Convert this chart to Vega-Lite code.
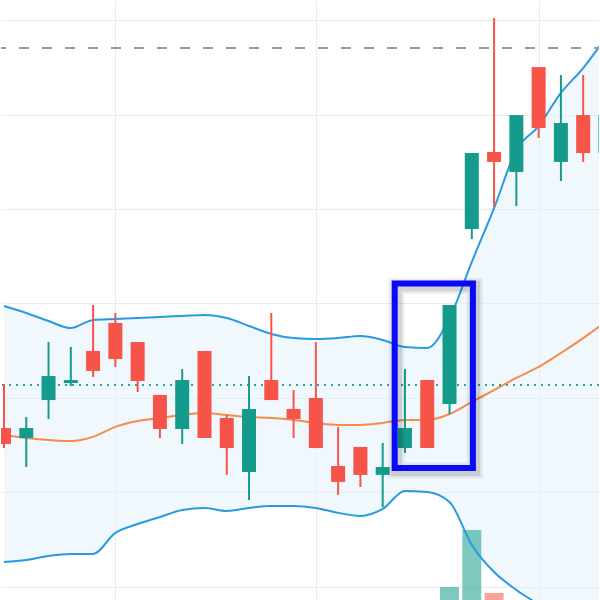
{
  "$schema": "https://vega.github.io/schema/vega-lite/v6.json",
  "width": 600,
  "height": 600,
  "autosize": {"type": "fit", "contains": "padding"},
  "padding": 0,
  "background": "white",
  "config": {"view": {"stroke": null}, "axis": {"gridColor": "#ebebeb", "gridWidth": 1}, "scale": {"continuousPadding": 0}},
  "datasets": {
    "ohlc": [
      {"i": 0, "open": 98.41, "high": 100.74, "low": 97.35, "close": 97.57, "upper": 104.87, "middle": 98.04, "lower": 91.32, "vol": 12},
      {"i": 1, "open": 97.88, "high": 98.99, "low": 96.35, "close": 98.41, "upper": 104.50, "middle": 97.88, "lower": 91.43, "vol": 9},
      {"i": 2, "open": 99.89, "high": 102.96, "low": 98.89, "close": 101.16, "upper": 104.07, "middle": 97.78, "lower": 91.64, "vol": 14},
      {"i": 3, "open": 100.79, "high": 102.70, "low": 100.63, "close": 100.95, "upper": 103.70, "middle": 97.72, "lower": 91.75, "vol": 7},
      {"i": 4, "open": 102.49, "high": 104.92, "low": 101.11, "close": 101.43, "upper": 104.13, "middle": 97.94, "lower": 91.75, "vol": 11},
      {"i": 5, "open": 103.97, "high": 104.50, "low": 101.64, "close": 102.06, "upper": 104.18, "middle": 98.47, "lower": 92.86, "vol": 10},
      {"i": 6, "open": 102.96, "high": 102.96, "low": 100.32, "close": 100.90, "upper": 104.23, "middle": 98.78, "lower": 93.33, "vol": 9},
      {"i": 7, "open": 100.16, "high": 100.16, "low": 97.88, "close": 98.36, "upper": 104.29, "middle": 98.94, "lower": 93.70, "vol": 8},
      {"i": 8, "open": 98.36, "high": 101.53, "low": 97.57, "close": 100.95, "upper": 104.34, "middle": 99.10, "lower": 94.07, "vol": 10},
      {"i": 9, "open": 102.49, "high": 102.49, "low": 97.88, "close": 97.88, "upper": 104.39, "middle": 99.21, "lower": 94.18, "vol": 13},
      {"i": 10, "open": 98.94, "high": 99.10, "low": 95.93, "close": 97.35, "upper": 104.23, "middle": 99.10, "lower": 94.02, "vol": 9},
      {"i": 11, "open": 96.08, "high": 101.16, "low": 94.60, "close": 99.42, "upper": 103.81, "middle": 98.99, "lower": 94.18, "vol": 15},
      {"i": 12, "open": 100.95, "high": 104.50, "low": 99.89, "close": 99.89, "upper": 103.39, "middle": 98.94, "lower": 94.29, "vol": 11},
      {"i": 13, "open": 99.42, "high": 100.42, "low": 97.88, "close": 98.89, "upper": 103.17, "middle": 98.84, "lower": 94.29, "vol": 7},
      {"i": 14, "open": 100.00, "high": 102.96, "low": 97.35, "close": 97.35, "upper": 103.12, "middle": 98.68, "lower": 94.18, "vol": 12},
      {"i": 15, "open": 96.40, "high": 98.47, "low": 94.87, "close": 95.56, "upper": 103.17, "middle": 98.57, "lower": 93.92, "vol": 10},
      {"i": 16, "open": 97.41, "high": 97.41, "low": 95.29, "close": 95.93, "upper": 103.28, "middle": 98.57, "lower": 93.76, "vol": 8},
      {"i": 17, "open": 95.93, "high": 97.62, "low": 94.23, "close": 96.35, "upper": 103.07, "middle": 98.68, "lower": 94.13, "vol": 9},
      {"i": 18, "open": 97.35, "high": 101.53, "low": 97.09, "close": 98.41, "upper": 102.70, "middle": 98.84, "lower": 95.08, "vol": 14},
      {"i": 19, "open": 100.95, "high": 100.95, "low": 97.35, "close": 97.35, "upper": 102.65, "middle": 98.84, "lower": 95.03, "vol": 16},
      {"i": 20, "open": 99.68, "high": 104.92, "low": 99.15, "close": 104.92, "upper": 104.23, "middle": 99.15, "lower": 94.50, "vol": 33},
      {"i": 21, "open": 108.94, "high": 112.96, "low": 108.41, "close": 112.96, "upper": 107.20, "middle": 99.79, "lower": 92.22, "vol": 90},
      {"i": 22, "open": 113.02, "high": 120.11, "low": 110.11, "close": 112.49, "upper": 110.05, "middle": 100.42, "lower": 90.79, "vol": 27},
      {"i": 23, "open": 111.96, "high": 114.97, "low": 110.16, "close": 114.97, "upper": 113.12, "middle": 101.06, "lower": 89.84, "vol": 18},
      {"i": 24, "open": 117.51, "high": 117.51, "low": 113.76, "close": 114.29, "upper": 114.39, "middle": 101.64, "lower": 89.05, "vol": 15},
      {"i": 25, "open": 112.49, "high": 117.09, "low": 111.48, "close": 114.55, "upper": 116.14, "middle": 102.38, "lower": 87.99, "vol": 12},
      {"i": 26, "open": 114.97, "high": 117.09, "low": 112.49, "close": 112.96, "upper": 117.46, "middle": 103.17, "lower": 87.20, "vol": 10},
      {"i": 27, "open": 112.96, "high": 115.20, "low": 112.70, "close": 114.97, "upper": 119.05, "middle": 104.02, "lower": 86.67, "vol": 9}
    ],
    "box": [
      {"x1": 17.54, "x2": 21.05, "y1": 96.30, "y2": 106.06}
    ],
    "shadow": [
      {"x1": 17.62, "x2": 21.13, "y1": 96.16, "y2": 105.92}
    ],
    "levels": [
      {"name": "resistance", "price": 118.52},
      {"name": "last", "price": 100.69}
    ]
  },
  "resolve": {"scale": {"y": "independent"}},
  "layer": [
    {
      "data": {"name": "ohlc"},
      "mark": {"type": "area", "color": "#e3f2fb", "opacity": 0.5, "interpolate": "monotone", "clip": true},
      "encoding": {
        "x": {"field": "i", "type": "quantitative",
              "scale": {"domain": [-0.134, 26.71], "nice": false, "zero": false, "padding": 0},
              "axis": {"values": [5, 14, 24], "labels": false, "ticks": false, "domain": false, "title": null, "grid": true}},
        "y": {"field": "upper", "type": "quantitative",
              "scale": {"domain": [89.31, 121.06], "nice": false, "zero": false},
              "axis": {"values": [90, 95, 100, 105, 110, 115, 120], "labels": false, "ticks": false, "domain": false, "title": null, "grid": true}},
        "y2": {"field": "lower"}
      }
    },
    {
      "data": {"name": "ohlc"},
      "mark": {"type": "bar", "width": 19, "opacity": 0.55, "clip": true},
      "encoding": {
        "x": {"field": "i", "type": "quantitative"},
        "y": {"field": "vol", "type": "quantitative", "scale": {"domain": [20, 620], "nice": false, "zero": false}, "axis": null},
        "y2": {"datum": 0},
        "color": {"condition": {"test": "datum.close >= datum.open", "value": "#149b8c"}, "value": "#f65349"}
      }
    },
    {
      "layer": [
        {
          "data": {"name": "ohlc"},
          "mark": {"type": "line", "color": "#2a9ae0", "strokeWidth": 2, "interpolate": "monotone", "clip": true},
          "encoding": {
            "x": {"field": "i", "type": "quantitative"},
            "y": {"field": "upper", "type": "quantitative", "scale": {"domain": [89.31, 121.06], "nice": false, "zero": false}, "axis": null}
          }
        },
        {
          "data": {"name": "ohlc"},
          "mark": {"type": "line", "color": "#2a9ae0", "strokeWidth": 2, "interpolate": "monotone", "clip": true},
          "encoding": {
            "x": {"field": "i", "type": "quantitative"},
            "y": {"field": "lower", "type": "quantitative"}
          }
        },
        {
          "data": {"name": "ohlc"},
          "mark": {"type": "line", "color": "#f68b4c", "strokeWidth": 2, "interpolate": "monotone", "clip": true},
          "encoding": {
            "x": {"field": "i", "type": "quantitative"},
            "y": {"field": "middle", "type": "quantitative"}
          }
        },
        {
          "data": {"name": "levels"},
          "transform": [{"filter": "datum.name === 'resistance'"}],
          "mark": {"type": "rule", "color": "#9a9a9a", "strokeWidth": 2, "strokeDash": [10, 13], "strokeDashOffset": 5},
          "encoding": {"y": {"field": "price", "type": "quantitative"}}
        },
        {
          "data": {"name": "levels"},
          "transform": [{"filter": "datum.name === 'last'"}],
          "mark": {"type": "rule", "color": "#26a69a", "strokeWidth": 2, "strokeDash": [2, 5]},
          "encoding": {"y": {"field": "price", "type": "quantitative"}}
        },
        {
          "data": {"name": "ohlc"},
          "mark": {"type": "rule", "strokeWidth": 2, "clip": true},
          "encoding": {
            "x": {"field": "i", "type": "quantitative"},
            "y": {"field": "low", "type": "quantitative"},
            "y2": {"field": "high"},
            "color": {"condition": {"test": "datum.close >= datum.open", "value": "#149b8c"}, "value": "#f65349"}
          }
        },
        {
          "data": {"name": "ohlc"},
          "mark": {"type": "bar", "width": 14, "clip": true},
          "encoding": {
            "x": {"field": "i", "type": "quantitative"},
            "y": {"field": "open", "type": "quantitative"},
            "y2": {"field": "close"},
            "color": {"condition": {"test": "datum.close >= datum.open", "value": "#149b8c"}, "value": "#f65349"}
          }
        },
        {
          "data": {"name": "shadow"},
          "mark": {"type": "rect", "fill": null, "stroke": "#000000", "strokeOpacity": 0.07, "strokeWidth": 16},
          "encoding": {
            "x": {"field": "x1", "type": "quantitative"},
            "x2": {"field": "x2"},
            "y": {"field": "y1", "type": "quantitative"},
            "y2": {"field": "y2"}
          }
        },
        {
          "data": {"name": "shadow"},
          "mark": {"type": "rect", "fill": null, "stroke": "#000000", "strokeOpacity": 0.1, "strokeWidth": 11},
          "encoding": {
            "x": {"field": "x1", "type": "quantitative"},
            "x2": {"field": "x2"},
            "y": {"field": "y1", "type": "quantitative"},
            "y2": {"field": "y2"}
          }
        },
        {
          "data": {"name": "box"},
          "mark": {"type": "rect", "fill": null, "stroke": "#0a0af5", "strokeWidth": 6},
          "encoding": {
            "x": {"field": "x1", "type": "quantitative"},
            "x2": {"field": "x2"},
            "y": {"field": "y1", "type": "quantitative"},
            "y2": {"field": "y2"}
          }
        }
      ]
    }
  ]
}
